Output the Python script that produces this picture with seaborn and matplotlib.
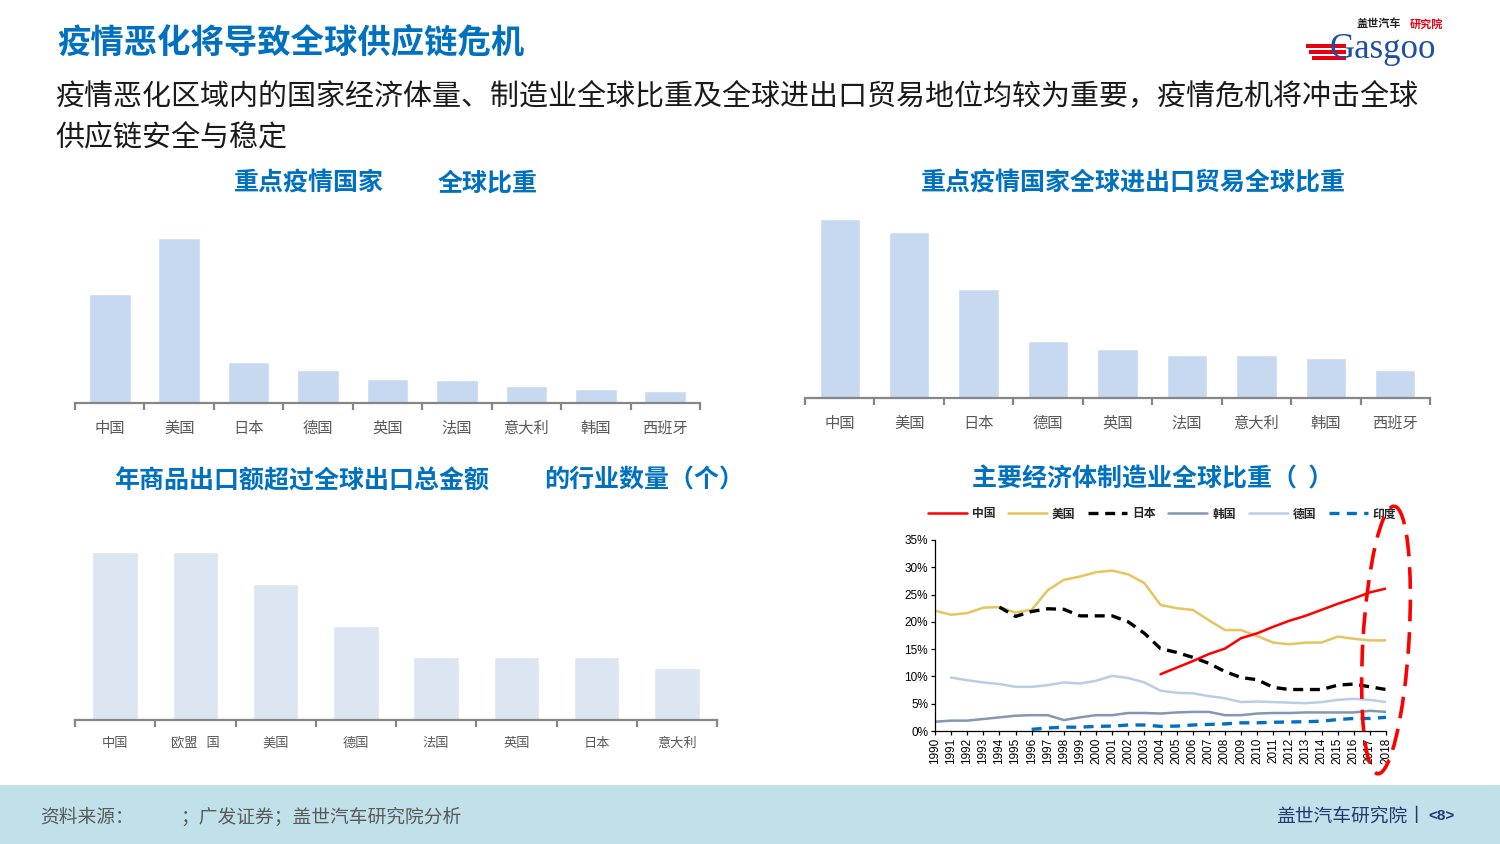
import numpy as np
import pandas as pd
import matplotlib
matplotlib.use("Agg")
import matplotlib.pyplot as plt
from matplotlib import patches
from matplotlib.lines import Line2D
from matplotlib.ticker import FixedLocator
import seaborn as sns

# ---------------- data ----------------
cats_top = ['中国', '美国', '日本', '德国', '英国', '法国', '意大利', '韩国', '西班牙']
gdp_share = [15.8, 23.9, 5.9, 4.8, 3.5, 3.3, 2.5, 2.0, 1.7]
trade_share = [11.8, 10.9, 7.2, 3.75, 3.2, 2.85, 2.85, 2.6, 1.85]

cats_ind = ['中国', '欧盟   国', '美国', '德国', '法国', '英国', '日本', '意大利']
industry_count = [16, 16, 13, 9, 6, 6, 6, 5]

years = list(range(1990, 2019))
nan = np.nan
china = [nan] * 14 + [10.4, 11.6, 12.8, 14.1, 15.1, 17.0, 17.9, 19.1, 20.2, 21.1, 22.2, 23.3, 24.3, 25.4, 26.1]
usa = [22.05, 21.3, 21.6, 22.6, 22.7, 21.7, 22.2, 25.8, 27.7, 28.3, 29.1, 29.4, 28.7, 27.1, 23.1,
       22.5, 22.2, 20.3, 18.5, 18.5, 17.4, 16.2, 15.9, 16.2, 16.2, 17.3, 16.9, 16.6, 16.6]
japan = [nan] * 4 + [22.7, 21.0, 21.9, 22.4, 22.3, 21.1, 21.1, 21.1, 20.0, 17.9, 15.1, 14.4, 13.5,
                     12.4, 10.9, 9.8, 9.4, 8.0, 7.6, 7.6, 7.6, 8.4, 8.6, 8.1, 7.6]
korea = [1.7, 1.9, 1.9, 2.2, 2.5, 2.8, 2.9, 2.9, 2.0, 2.5, 2.9, 2.9, 3.3, 3.3, 3.2, 3.4, 3.5, 3.5,
         2.9, 2.9, 3.2, 3.3, 3.3, 3.4, 3.4, 3.4, 3.4, 3.7, 3.5]
germany = [nan] + [9.8, 9.3, 8.9, 8.6, 8.1, 8.1, 8.4, 8.9, 8.7, 9.2, 10.1, 9.7, 8.9, 7.4, 7.0, 6.9,
                   6.4, 6.0, 5.3, 5.4, 5.3, 5.2, 5.1, 5.3, 5.7, 5.9, 5.7, 5.3]
india = [nan] * 6 + [0.3, 0.55, 0.7, 0.7, 0.85, 0.9, 1.1, 1.1, 0.85, 0.9, 1.1, 1.2, 1.3, 1.5, 1.5,
                     1.6, 1.65, 1.7, 1.8, 2.1, 2.3, 2.3, 2.5]
series_names = ['中国', '美国', '日本', '韩国', '德国', '印度']

# ---------------- setup ----------------
sns.set_theme(style='white')
plt.rcParams['font.family'] = ['Noto Sans CJK SC', 'DejaVu Sans']
plt.rcParams['axes.unicode_minus'] = False

W, H = 1500, 844
fig = plt.figure(figsize=(15, 8.44), dpi=100)


def rect(x0, y0, x1, y1):
    return [x0 / W, 1 - y1 / H, (x1 - x0) / W, (y1 - y0) / H]


BLUE = '#0070C0'
GREY = '#868686'
LABEL = '#595959'

# background overlay for text / footer
bg = fig.add_axes([0, 0, 1, 1])
bg.set_xlim(0, W)
bg.set_ylim(H, 0)
bg.axis('off')
bg.set_zorder(-5)

bg.add_patch(patches.Rectangle((0, 785), W, 59, color='#C0E1EA', lw=0))
bg.text(57, 43, '疫情恶化将导致全球供应链危机', fontsize=24, fontweight='bold', color=BLUE,
        va='center', ha='left')
bg.text(55, 97, '疫情恶化区域内的国家经济体量、制造业全球比重及全球进出口贸易地位均较为重要，疫情危机将冲击全球',
        fontsize=20.9, color='#1a1a1a', va='center', ha='left')
bg.text(55, 138, '供应链安全与稳定', fontsize=20.9, color='#1a1a1a', va='center', ha='left')

# chart titles
bg.text(234, 183, '重点疫情国家', fontsize=18, fontweight='bold', color=BLUE, va='center', ha='left')
bg.text(438, 183, '全球比重', fontsize=18, fontweight='bold', color=BLUE, va='center', ha='left')
bg.text(1133, 183, '重点疫情国家全球进出口贸易全球比重', fontsize=18, fontweight='bold', color=BLUE,
        va='center', ha='center')
bg.text(114, 481, '年商品出口额超过全球出口总金额', fontsize=18, fontweight='bold', color=BLUE,
        va='center', ha='left')
bg.text(544, 481, '的行业数量（个）', fontsize=18, fontweight='bold', color=BLUE, va='center', ha='left')
bg.text(972, 479, '主要经济体制造业全球比重（  ）', fontsize=18, fontweight='bold', color=BLUE,
        va='center', ha='left')

# footer
bg.text(40, 817, '资料来源：', fontsize=13.5, color=LABEL, va='center', ha='left')
bg.text(180, 817, '；广发证券；盖世汽车研究院分析', fontsize=13.5, color=LABEL, va='center', ha='left')
bg.text(1276, 816, '盖世汽车研究院丨', fontsize=13.5, color='#1F3B73', va='center', ha='left')
bg.text(1428, 816, '<8>', fontsize=11, fontweight='bold', color='#1F3B73', va='center', ha='left',
        family=['Liberation Sans'])

# logo
for i, yy in enumerate([44, 50, 56]):
    bg.add_patch(patches.Rectangle((1306 + i * 3, yy), 40 - i * 3, 3.5, color='#E60012', lw=0))
bg.text(1330, 50, 'Gasgoo', fontsize=25, color='#1E4FA0', va='center', ha='left',
        family=['Liberation Serif'])
bg.text(1357, 24, '盖世汽车', fontsize=8, fontweight='bold', color='#222222', va='center', ha='left')
bg.text(1410, 24, '研究院', fontsize=8, fontweight='bold', color='#E60012', va='center', ha='left')


# ---------------- bar charts ----------------
def bar_chart(box, cats, vals, color, px_per_unit, width, label_size, pad):
    x0, y0, x1, y1 = box
    ax = fig.add_axes(rect(*box))
    ax.patch.set_alpha(0)
    sns.barplot(x=cats, y=vals, color=color, saturation=1, width=width, ax=ax)
    ax.set_xlim(-0.5, len(cats) - 0.5)
    ax.set_ylim(0, (y1 - y0) / px_per_unit)
    for s in ['left', 'top', 'right']:
        ax.spines[s].set_visible(False)
    ax.spines['bottom'].set_color(GREY)
    ax.spines['bottom'].set_linewidth(1.6)
    ax.set_yticks([])
    ax.set_xlabel('')
    ax.set_ylabel('')
    ax.tick_params(axis='x', which='major', length=0, pad=pad, labelsize=label_size,
                   labelcolor=LABEL)
    ax.xaxis.set_minor_locator(FixedLocator(np.arange(-0.5, len(cats), 1.0)))
    ax.tick_params(axis='x', which='minor', length=5, width=1.6, color=GREY, direction='out',
                   bottom=True)
    return ax


bar_chart((75, 200, 700, 403), cats_top, gdp_share, '#C6D9F1', 6.9, 0.6, 11, 12)
bar_chart((805, 200, 1430, 398), cats_top, trade_share, '#C6D9F1', 15.2, 0.58, 11, 12)
bar_chart((75, 530, 717, 720), cats_ind, industry_count, '#DCE6F2', 10.5, 0.57, 9.5, 12)

# ---------------- line chart ----------------
ax4 = fig.add_axes(rect(935, 540, 1386, 731))
ax4.patch.set_alpha(0)
df = pd.DataFrame({'year': years, '中国': china, '美国': usa, '日本': japan, '韩国': korea,
                   '德国': germany, '印度': india})
styles = {
    '中国': dict(color='#FF0000', lw=1.8, ls='-'),
    '美国': dict(color='#E6C45E', lw=1.8, ls='-'),
    '日本': dict(color='#000000', lw=2.4, ls=(0, (3, 2))),
    '韩国': dict(color='#8497B0', lw=1.8, ls='-'),
    '德国': dict(color='#B9CDE5', lw=1.8, ls='-'),
    '印度': dict(color='#0070C0', lw=2.4, ls=(0, (3, 2.2))),
}
for name in ['德国', '韩国', '印度', '美国', '日本', '中国']:
    st = styles[name]
    sns.lineplot(data=df, x='year', y=name, ax=ax4, color=st['color'], linewidth=st['lw'],
                 linestyle=st['ls'])
ax4.set_xlim(1990, 2018)
ax4.set_ylim(0, 35)
ax4.set_xlabel('')
ax4.set_ylabel('')
ax4.set_xticks(years)
ax4.set_xticklabels([str(y) for y in years], rotation=90, family=['Liberation Sans'], fontsize=8.5)
ax4.set_yticks(range(0, 36, 5))
ax4.set_yticklabels([f'{v}%' for v in range(0, 36, 5)], family=['Liberation Sans'], fontsize=8.5)
for s in ['top', 'right']:
    ax4.spines[s].set_visible(False)
for s in ['left', 'bottom']:
    ax4.spines[s].set_color('black')
    ax4.spines[s].set_linewidth(0.9)
ax4.tick_params(axis='both', which='major', length=3, width=0.9, color='black', direction='out',
                left=True, bottom=True, pad=2, labelcolor='black')
ax4.grid(False)

handles = [Line2D([0], [0], color=styles[n]['color'], lw=styles[n]['lw'], ls=styles[n]['ls'])
           for n in series_names]
leg = fig.legend(handles, series_names, loc='center', bbox_to_anchor=(1162 / W, 1 - 514 / H),
                 ncol=6, frameon=False, handlelength=3.3, columnspacing=1.1,
                 handletextpad=0.4, prop={'weight': 'bold', 'size': 8.5})

# foreground overlay: red dashed ellipse
fg = fig.add_axes([0, 0, 1, 1])
fg.set_xlim(0, W)
fg.set_ylim(H, 0)
fg.axis('off')
fg.patch.set_alpha(0)
fg.set_zorder(10)
fg.add_patch(patches.Ellipse((1386, 640), 46, 268, angle=3.5, fill=False, edgecolor='#FF0000',
                             lw=2.6, ls=(0, (6, 3))))

fig.savefig('out.png', dpi=100)
